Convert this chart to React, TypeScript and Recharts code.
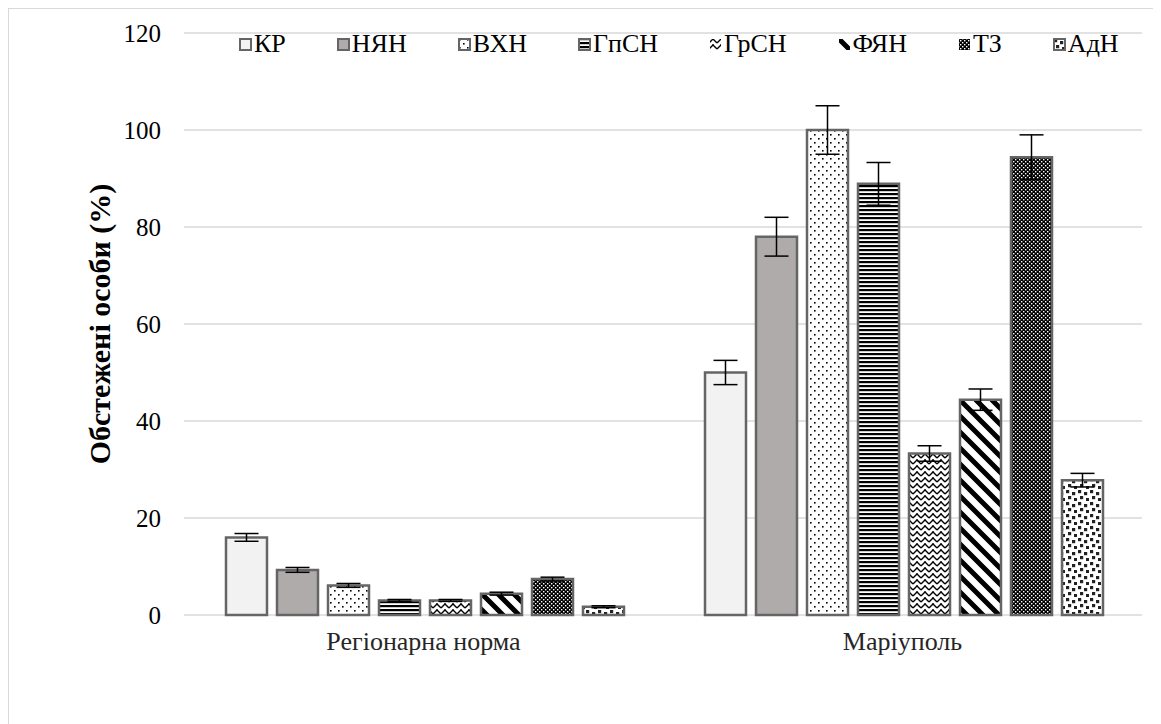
import React from 'react';
import { BarChart, Bar, XAxis, YAxis, CartesianGrid, ErrorBar, Legend } from 'recharts';

const categories = ['Регіонарна норма', 'Маріуполь'];
const seriesNames = ['КР', 'НЯН', 'ВХН', 'ГпСН', 'ГрСН', 'ФЯН', 'ТЗ', 'АдН'];
const yTicks = [0, 20, 40, 60, 80, 100, 120];

const krValues = [16, 50];
const krErrors = [0.8, 2.5];
const nyanValues = [9.3, 78];
const nyanErrors = [0.5, 4];
const vkhnValues = [6.1, 100];
const vkhnErrors = [0.4, 5];
const gpsnValues = [3, 88.9];
const gpsnErrors = [0.2, 4.4];
const grsnValues = [3, 33.3];
const grsnErrors = [0.2, 1.6];
const fyanValues = [4.4, 44.4];
const fyanErrors = [0.3, 2.2];
const tzValues = [7.4, 94.4];
const tzErrors = [0.4, 4.6];
const adnValues = [1.7, 27.8];
const adnErrors = [0.2, 1.4];

const seriesValues = [krValues, nyanValues, vkhnValues, gpsnValues, grsnValues, fyanValues, tzValues, adnValues];
const seriesErrors = [krErrors, nyanErrors, vkhnErrors, gpsnErrors, grsnErrors, fyanErrors, tzErrors, adnErrors];

const fills = ['#f2f2f2', '#afabab', 'url(#pDots)', 'url(#pHoriz)', 'url(#pZig)', 'url(#pDiag)', 'url(#pCheck)', 'url(#pConf)'];
const legendBorder = [true, true, true, true, false, false, false, true];

const data = categories.map((c, i) => {
  const row: any = { name: c };
  seriesNames.forEach((s, k) => {
    row['v' + k] = seriesValues[k][i];
    row['e' + k] = seriesErrors[k][i];
  });
  return row;
});

const FONT = '"Liberation Serif", "Times New Roman", serif';
const STROKE = '#656565';

function Patterns() {
  return (
    <defs>
      <pattern id="pDots" patternUnits="userSpaceOnUse" width="8" height="8">
        <rect width="8" height="8" fill="#ffffff" />
        <rect x="1" y="1" width="1.6" height="1.6" fill="#000" />
        <rect x="5" y="5" width="1.6" height="1.6" fill="#000" />
      </pattern>
      <pattern id="pHoriz" patternUnits="userSpaceOnUse" width="8" height="4">
        <rect width="8" height="4" fill="#ffffff" />
        <rect y="0" width="8" height="2.2" fill="#000" />
      </pattern>
      <pattern id="pZig" patternUnits="userSpaceOnUse" width="8" height="6">
        <rect width="8" height="6" fill="#ffffff" />
        <path d="M0,5 L4,1 L8,5" stroke="#000" strokeWidth="1.4" fill="none" />
        <rect x="3.3" y="0.3" width="1.4" height="1.4" fill="#000" />
      </pattern>
      <pattern id="pDiag" patternUnits="userSpaceOnUse" width="16" height="16">
        <rect width="16" height="16" fill="#ffffff" />
        <path d="M-4,-4 L20,20 M-4,12 L4,20 M12,-4 L20,4" stroke="#000" strokeWidth="5" />
      </pattern>
      <pattern id="pCheck" patternUnits="userSpaceOnUse" width="4" height="4">
        <rect width="4" height="4" fill="#000" />
        <rect x="0" y="0" width="1.4" height="1.4" fill="#fff" />
        <rect x="2" y="2" width="1.4" height="1.4" fill="#fff" />
      </pattern>
      <pattern id="pConf" patternUnits="userSpaceOnUse" width="12" height="12">
        <rect width="12" height="12" fill="#ffffff" />
        <rect x="1" y="1" width="3.2" height="3.2" fill="#222" />
        <rect x="7" y="3" width="3.2" height="3.2" fill="#222" />
        <rect x="3" y="7" width="3.2" height="3.2" fill="#222" />
        <rect x="9" y="9" width="3" height="3" fill="#222" />
      </pattern>
    </defs>
  );
}

function LegendContent() {
  return (
    <div style={{ display: 'flex', flexDirection: 'row', alignItems: 'center', fontFamily: FONT, fontSize: 26, color: '#000' }}>
      {seriesNames.map((s, k) => (
        <div key={s} style={{ display: 'flex', alignItems: 'center', marginRight: k < seriesNames.length - 1 ? 51 : 0 }}>
          <svg width="13" height="13" style={{ marginRight: 2 }}>
            <rect x="1" y="1" width="11" height="11" fill={fills[k]} stroke={legendBorder[k] ? STROKE : 'none'} strokeWidth="2" />
          </svg>
          <span style={{ lineHeight: '26px', fontFamily: FONT }}>{s}</span>
        </div>
      ))}
    </div>
  );
}

export default function App() {
  return (
    <div style={{ position: 'relative', width: 1152, height: 715, borderLeft: '1px solid #d9d9d9', borderTop: '1px solid #d9d9d9', fontFamily: FONT, background: '#fff' }}>
      <BarChart
        width={1152}
        height={715}
        data={data}
        margin={{ top: 24, right: 19, bottom: 49, left: 0 }}
        barCategoryGap={42}
        barGap={10}
      >
        <Patterns />
        <CartesianGrid vertical={false} stroke="#d9d9d9" strokeWidth={1.5} />
        <XAxis
          dataKey="name"
          axisLine={false}
          tickLine={false}
          tickSize={0}
          tickMargin={17}
          height={60}
          tick={{ fontFamily: FONT, fontSize: 26, fill: '#262626' }}
        />
        <YAxis
          domain={[0, 120]}
          ticks={yTicks}
          axisLine={false}
          tickLine={false}
          tickSize={0}
          tickMargin={23}
          width={175}
          tick={{ fontFamily: FONT, fontSize: 25, fill: '#000' }}
          label={{
            value: 'Обстежені особи (%)',
            angle: -90,
            position: 'insideLeft',
            offset: 90,
            style: { fontFamily: FONT, fontSize: 30, fontWeight: 'bold', fill: '#000', textAnchor: 'middle' },
          }}
        />
        <Legend
          layout="horizontal"
          verticalAlign="middle"
          align="center"
          content={() => <LegendContent />}
          wrapperStyle={{ top: 22, left: 230, width: 920 }}
        />
        {seriesNames.map((s, k) => (
          <Bar key={s} dataKey={'v' + k} name={s} fill={fills[k]} stroke={STROKE} strokeWidth={2.5} isAnimationActive={false}>
            <ErrorBar dataKey={'e' + k} width={12} stroke="#000" strokeWidth={1.5} direction="y" />
          </Bar>
        ))}
      </BarChart>
    </div>
  );
}
